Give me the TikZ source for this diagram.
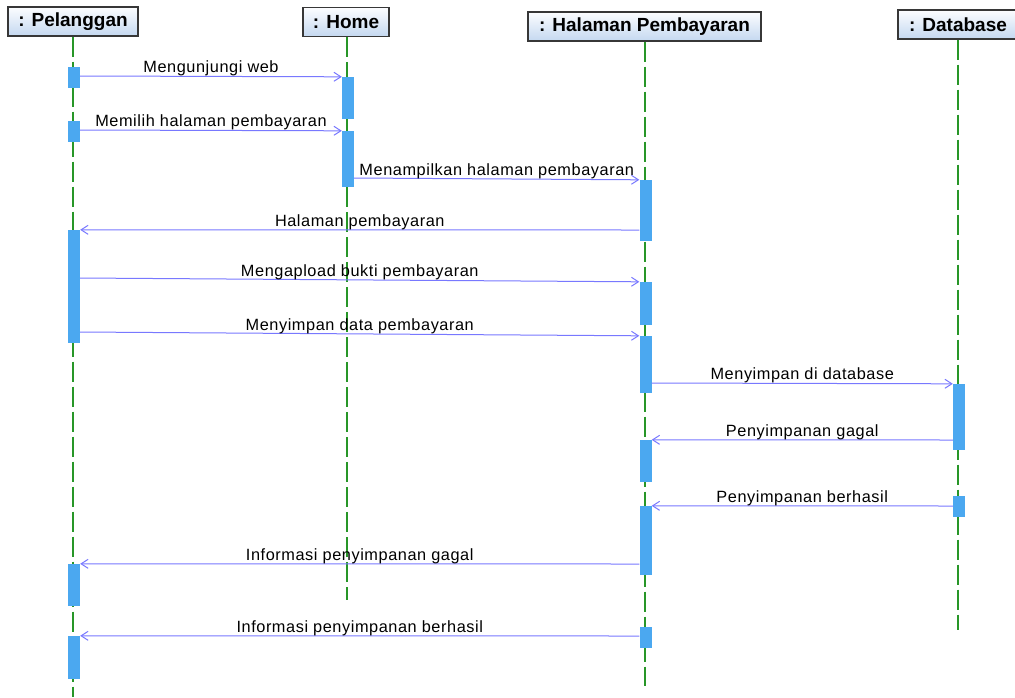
\documentclass[tikz,border=0pt]{standalone}
\usepackage{fontspec}
\setmainfont{Liberation Sans}
\usetikzlibrary{arrows.meta}
\definecolor{lifegreen}{RGB}{40,150,40}
\definecolor{barblue}{RGB}{75,168,240}
\definecolor{msgblue}{RGB}{120,120,255}
\definecolor{headtop}{RGB}{252,253,255}
\definecolor{headbot}{RGB}{196,216,240}
\definecolor{headline}{RGB}{55,55,55}
\tikzset{
  objbox/.style={draw=headline, line width=1.1pt, top color=headtop, bottom color=headbot,
    minimum height=29pt, inner sep=0pt, font=\fontsize{19}{21}\selectfont\bfseries},
  life/.style={draw=lifegreen, line width=1.1pt, dash pattern=on 20pt off 5pt},
  actbar/.style={fill=barblue, draw=none, minimum width=12pt, inner sep=0pt},
  msg/.style={draw=msgblue, line width=1pt, -{Straight Barb[length=7pt,width=9pt]}},
  lbl/.style={anchor=base, yshift=3.5pt, inner sep=0pt,
    font=\fontsize{16.3}{18}\selectfont\addfontfeatures{LetterSpace=3.5}, text=black}
}
\newcommand{\actbar}[4]{\node[actbar, minimum height=#4-#3] (#1) at (#2,{(#3+#4)/2}) {};}
\begin{document}
\begin{tikzpicture}[x=1pt,y=-1pt]
\useasboundingbox (0,0) rectangle (1015,697);
\clip (0,0) rectangle (1015,697);
\fill[white] (0,0) rectangle (1015,697);

% object headers
\node[objbox, minimum width=130pt] (pel) at (73,21.5) {: Pelanggan};
\node[objbox, minimum width=86pt]  (home) at (346,22) {: Home};
\node[objbox, minimum width=233pt] (hal) at (644.5,26.5) {: Halaman Pembayaran};
\node[objbox, minimum width=120pt] (db) at (958,24.5) {: Database};

% lifeline ends
\coordinate (pelEnd) at (73,697);
\coordinate (homeEnd) at (347,600);
\coordinate (halEnd) at (645,686);
\coordinate (dbEnd) at (958,630);

\draw[life] (pel.south -| pelEnd) -- (pelEnd);
\draw[life] (home.south -| homeEnd) -- (homeEnd);
\draw[life] (hal.south -| halEnd) -- (halEnd);
\draw[life] (db.south -| dbEnd) -- (dbEnd);

% activation bars
\actbar{p1}{74}{67}{88}
\actbar{p2}{74}{121}{142}
\actbar{p3}{74}{230}{343}
\actbar{p4}{74}{564}{606}
\actbar{p5}{74}{636}{679}
\actbar{h1}{348}{77}{119}
\actbar{h2}{348}{131}{187}
\actbar{k1}{645.5}{180}{241}
\actbar{k2}{645.5}{282}{325}
\actbar{k3}{645.5}{336}{393}
\actbar{k4}{645.5}{440}{482}
\actbar{k5}{645.5}{506}{575}
\actbar{k6}{645.5}{627}{648}
\actbar{d1}{959}{384}{450}
\actbar{d2}{959}{496}{517}

% messages
\draw[msg] (p1.east |- 0,76) -- node[lbl]{Mengunjungi web} (h1.north west);
\draw[msg] (p2.east |- 0,130) -- node[lbl]{Memilih halaman pembayaran} (h2.north west);
\draw[msg] (h2.east |- 0,178) -- node[lbl]{Menampilkan halaman pembayaran} (k1.north west);
\draw[msg] (k1.west |- 0,230) -- node[lbl]{Halaman pembayaran} (p3.north east);
\draw[msg] (p3.east |- 0,278) -- node[lbl]{Mengapload bukti pembayaran} (k2.north west);
\draw[msg] (p3.east |- 0,332) -- node[lbl]{Menyimpan data pembayaran} (k3.north west);
\draw[msg] (k3.east |- 0,383) -- node[lbl]{Menyimpan di database} (d1.north west);
\draw[msg] (d1.west |- 0,440) -- node[lbl]{Penyimpanan gagal} (k4.north east);
\draw[msg] (d2.west |- 0,506) -- node[lbl]{Penyimpanan berhasil} (k5.north east);
\draw[msg] (k5.west |- 0,564) -- node[lbl]{Informasi penyimpanan gagal} (p4.north east);
\draw[msg] (k6.west |- 0,636) -- node[lbl]{Informasi penyimpanan berhasil} (p5.north east);
\end{tikzpicture}
\end{document}
